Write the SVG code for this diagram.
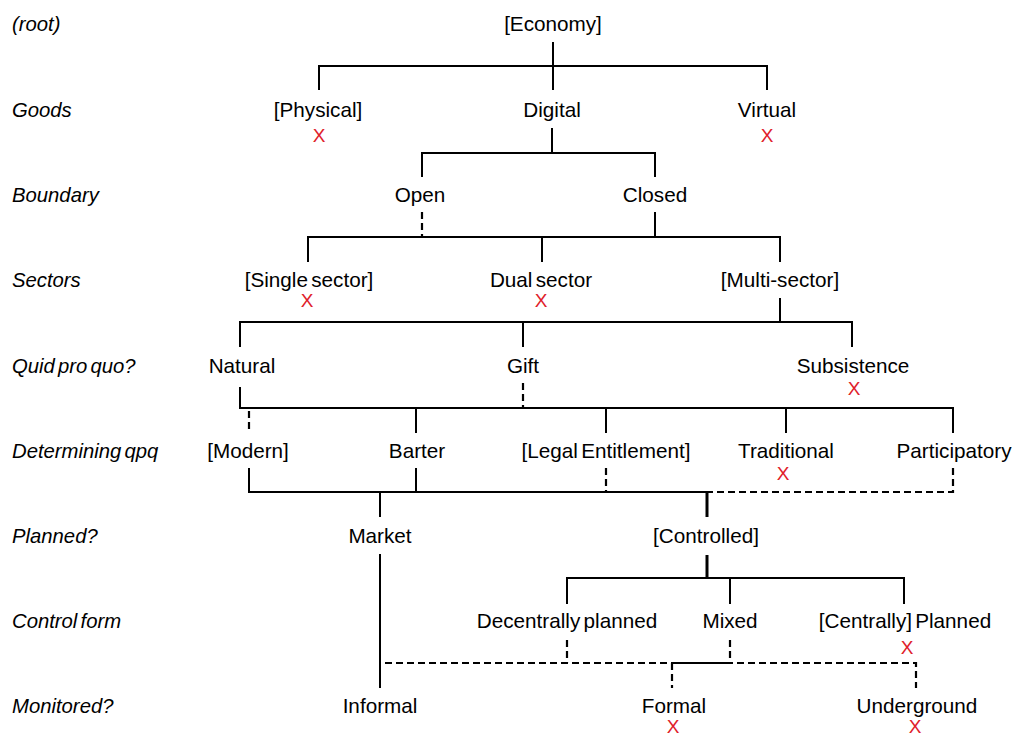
<svg xmlns="http://www.w3.org/2000/svg" width="1013" height="735" viewBox="0 0 1013 735">
<style>
text{font-family:"Liberation Sans",Arial,sans-serif;font-size:20.7px;fill:#000;word-spacing:-2.5px}
.n{text-anchor:middle}
.lbl{font-style:italic;font-size:20.3px}
.x{fill:#e0202a;text-anchor:middle;font-size:19px}
.s{fill:none;stroke:#000;stroke-width:2}
.t{fill:none;stroke:#000;stroke-width:3}
.d{fill:none;stroke:#000;stroke-width:2.2;stroke-dasharray:7 4}
</style>
<rect width="1013" height="735" fill="#fff"/>
<g id="connectors">
<path class="s" d="M553 42V90M319 90V66H767V90"/>
<path class="s" d="M552 128V153M422 177V153H655V177"/>
<path class="s" d="M655 212V237M308 262V237H780V262M542 237V262"/>
<path class="d" d="M422 212V237M308 237H780"/>
<path class="s" d="M780 298V322M240 347V322H852V347M523 322V347"/>
<path class="s" d="M240 387V408H953V433M416 408V433M606 408V433M786 408V433"/>
<path class="d" d="M523 383V408M249 408H953M249 411V433"/>
<path class="s" d="M249 468V492H707M416 468V492M380 492V517"/>
<path class="d" d="M606 468V492M953 468V492H707"/>
<path class="t" d="M707 492V517"/>
<path class="s" d="M380 554V688"/>
<path class="t" d="M707 555V578"/>
<path class="s" d="M567 604V578H904V604M730 578V604"/>
<path class="d" d="M385 663H916V688M567 640V663M730 640V663M672 663V688"/>
<path class="s" d="M672 663H730"/>
</g>
<g id="levels">
<text class="lbl" x="12" y="31">(root)</text>
<text class="lbl" x="12" y="117">Goods</text>
<text class="lbl" x="12" y="202">Boundary</text>
<text class="lbl" x="12" y="287">Sectors</text>
<text class="lbl" x="12" y="373">Quid pro quo?</text>
<text class="lbl" x="12" y="458">Determining qpq</text>
<text class="lbl" x="12" y="543">Planned?</text>
<text class="lbl" x="12" y="628">Control form</text>
<text class="lbl" x="12" y="713">Monitored?</text>
</g>
<g id="economy"><text class="n" x="553" y="31">[Economy]</text></g>
<g id="physical"><text class="n" x="318" y="117">[Physical]</text><text class="x" x="319" y="142">X</text></g>
<g id="digital"><text class="n" x="552" y="117">Digital</text></g>
<g id="virtual"><text class="n" x="767" y="117">Virtual</text><text class="x" x="767" y="142">X</text></g>
<g id="open"><text class="n" x="420" y="202">Open</text></g>
<g id="closed"><text class="n" x="655" y="202">Closed</text></g>
<g id="single"><text class="n" x="309" y="287">[Single sector]</text><text class="x" x="307" y="307">X</text></g>
<g id="dual"><text class="n" x="541" y="287">Dual sector</text><text class="x" x="541" y="307">X</text></g>
<g id="multi"><text class="n" x="780" y="287">[Multi-sector]</text></g>
<g id="natural"><text class="n" x="242" y="373">Natural</text></g>
<g id="gift"><text class="n" x="523" y="373">Gift</text></g>
<g id="subsistence"><text class="n" x="853" y="373">Subsistence</text><text class="x" x="854" y="395">X</text></g>
<g id="modern"><text class="n" x="248" y="458">[Modern]</text></g>
<g id="barter"><text class="n" x="417" y="458">Barter</text></g>
<g id="legal"><text class="n" x="606" y="458">[Legal Entitlement]</text></g>
<g id="traditional"><text class="n" x="786" y="458">Traditional</text><text class="x" x="783" y="480">X</text></g>
<g id="participatory"><text class="n" x="954" y="458">Participatory</text></g>
<g id="market"><text class="n" x="380" y="543">Market</text></g>
<g id="controlled"><text class="n" x="706" y="543">[Controlled]</text></g>
<g id="decentral"><text class="n" x="567" y="628">Decentrally planned</text></g>
<g id="mixed"><text class="n" x="730" y="628">Mixed</text></g>
<g id="central"><text class="n" x="905" y="628">[Centrally] Planned</text><text class="x" x="907" y="654">X</text></g>
<g id="informal"><text class="n" x="380" y="713">Informal</text></g>
<g id="formal"><text class="n" x="674" y="713">Formal</text><text class="x" x="673" y="733">X</text></g>
<g id="underground"><text class="n" x="917" y="713">Underground</text><text class="x" x="915" y="733">X</text></g>
</svg>
